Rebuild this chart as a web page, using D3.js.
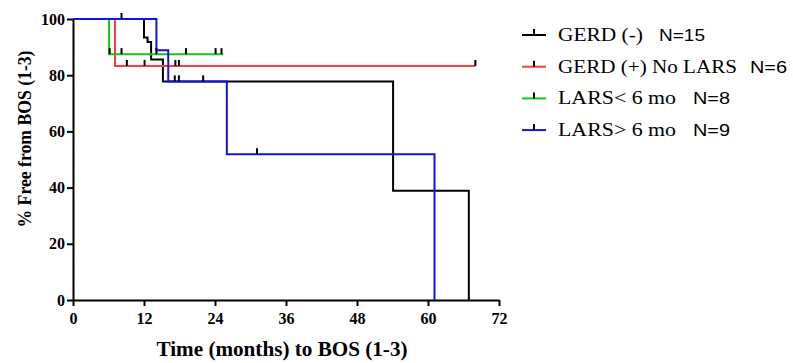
<!DOCTYPE html>
<html>
<head>
<meta charset="utf-8">
<script src="https://cdn.jsdelivr.net/npm/d3@7"></script>
<style>
  body { margin: 0; background: #fff; }
  svg { display: block; }
</style>
</head>
<body>
<div id="km-chart"></div>
<script>
// group names, sizes, colours
const groupNames = ["GERD (-)", "GERD (+) No LARS", "LARS< 6 mo", "LARS> 6 mo"]
const groupN = ["N=15", "N=6", "N=8", "N=9"]
const groupColors = ["#000000", "#ff3b3b", "#14c814", "#1414e0"]

// step drops: [month, % free]
const gerdNegSteps = [[12.0, 93.4], [12.6, 91.8], [13.2, 85.6], [15.2, 77.8], [54.1, 38.9], [66.9, 0]]
const gerdPosSteps = [[7.1, 83.3]]
const larsEarlySteps = [[6.1, 87.5]]
const larsLateSteps = [[14.1, 88.9], [16.1, 77.8], [26.0, 51.9], [61.1, 0]]

// last follow-up month of each curve
const curveEnds = [66.9, 68.0, 25.4, 61.1]

// censored months (tick marks)
const gerdNegCensor = [8.2, 17.2, 17.9]
const gerdPosCensor = [9.1, 12.1, 17.3, 17.9, 68.0]
const larsEarlyCensor = [6.2, 8.2, 14.1, 19.1, 24.1, 25.1]
const larsLateCensor = [22.0, 31.1]

const xTicks = [0, 12, 24, 36, 48, 60, 72]
const yTicks = [0, 20, 40, 60, 80, 100]

const width = 793
const height = 363
const serif = "'Liberation Serif', 'Times New Roman', serif"
const sans = "'Liberation Sans', Arial, sans-serif"

const svg = d3.select("#km-chart")
  .append("svg")
  .attr("width", width)
  .attr("height", height)

const xScale = d3.scaleLinear().domain([0, 72]).range([73, 499])
const yScale = d3.scaleLinear().domain([0, 100]).range([300, 19])

// survival value just before time t
function survivalAt(steps, t) {
  let s = 100
  steps.forEach(d => { if (d[0] <= t) s = d[1] })
  return s
}

function curvePoints(steps, end) {
  const pts = [[0, 100]].concat(steps)
  const last = pts[pts.length - 1]
  if (last[0] < end) pts.push([end, last[1]])
  return pts
}

const groups = [
  {steps: gerdNegSteps, censor: gerdNegCensor},
  {steps: gerdPosSteps, censor: gerdPosCensor},
  {steps: larsEarlySteps, censor: larsEarlyCensor},
  {steps: larsLateSteps, censor: larsLateCensor}
]

const line = d3.line()
  .x(d => xScale(d[0]))
  .y(d => yScale(d[1]))
  .curve(d3.curveStepAfter)

// axes
const xAxis = svg.append("g")
  .attr("transform", `translate(0, ${yScale(0)})`)
  .call(d3.axisBottom(xScale).tickValues(xTicks).tickSize(6).tickPadding(7).tickSizeOuter(0))
const yAxis = svg.append("g")
  .attr("transform", `translate(${xScale(0)}, 0)`)
  .call(d3.axisLeft(yScale).tickValues(yTicks).tickSize(6).tickPadding(2).tickSizeOuter(0))

;[xAxis, yAxis].forEach(ax => {
  ax.select(".domain").attr("stroke", "#000").attr("stroke-width", 2)
  ax.selectAll(".tick line").attr("stroke", "#000").attr("stroke-width", 2)
  ax.selectAll(".tick text")
    .attr("fill", "#000")
    .style("font-family", serif)
    .style("font-weight", "bold")
    .style("font-size", "16px")
})

svg.append("text")
  .attr("x", 282)
  .attr("y", 356)
  .attr("text-anchor", "middle")
  .attr("textLength", 251)
  .attr("lengthAdjust", "spacingAndGlyphs")
  .style("font-family", serif)
  .style("font-weight", "bold")
  .style("font-size", "21px")
  .text("Time (months) to BOS (1-3)")

svg.append("text")
  .attr("transform", "translate(31, 139) rotate(-90)")
  .attr("text-anchor", "middle")
  .attr("textLength", 177)
  .attr("lengthAdjust", "spacingAndGlyphs")
  .style("font-family", serif)
  .style("font-weight", "bold")
  .style("font-size", "18px")
  .text("% Free from BOS (1-3)")

// curves, blue last so it sits on top
groups.forEach((g, i) => {
  svg.append("path")
    .datum(curvePoints(g.steps, curveEnds[i]))
    .attr("fill", "none")
    .attr("stroke", groupColors[i])
    .attr("stroke-width", 2)
    .attr("d", line)
})

// censor ticks, drawn black and pointing up
groups.forEach(g => {
  svg.selectAll(null)
    .data(g.censor)
    .enter()
    .append("line")
    .attr("x1", d => xScale(d))
    .attr("x2", d => xScale(d))
    .attr("y1", d => yScale(survivalAt(g.steps, d)))
    .attr("y2", d => yScale(survivalAt(g.steps, d)) - 6)
    .attr("stroke", "#000")
    .attr("stroke-width", 2)
})

// legend
const legend = svg.append("g")
const nameWidths = [85, 179, 118, 118]
groupNames.forEach((name, i) => {
  const y = 35 + i * 31.7
  legend.append("line")
    .attr("x1", 522).attr("x2", 546)
    .attr("y1", y).attr("y2", y)
    .attr("stroke", groupColors[i])
    .attr("stroke-width", 2)
  legend.append("line")
    .attr("x1", 534).attr("x2", 534)
    .attr("y1", y).attr("y2", y - 6)
    .attr("stroke", "#000")
    .attr("stroke-width", 2)
  legend.append("text")
    .attr("x", 558)
    .attr("y", y + 6)
    .attr("textLength", nameWidths[i])
    .attr("lengthAdjust", "spacingAndGlyphs")
    .style("font-family", serif)
    .style("font-size", "19px")
    .text(name)
})
const nX = [659, 750, 693, 693]
const nWidths = [46, 37, 37, 37]
groupN.forEach((n, i) => {
  legend.append("text")
    .attr("x", nX[i])
    .attr("y", 35 + i * 31.7 + 6)
    .attr("textLength", nWidths[i])
    .attr("lengthAdjust", "spacingAndGlyphs")
    .style("font-family", sans)
    .style("font-size", "16px")
    .text(n)
})
</script>
</body>
</html>
